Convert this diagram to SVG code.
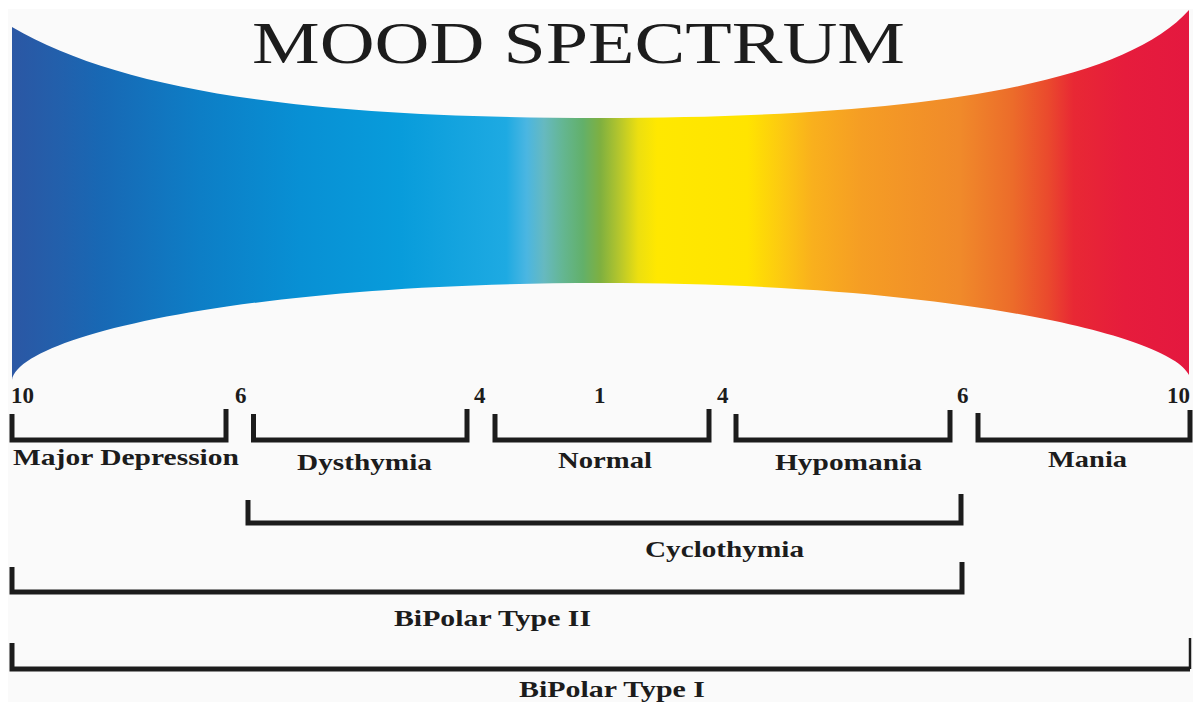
<svg xmlns="http://www.w3.org/2000/svg" width="1193" height="702" viewBox="0 0 1193 702">
<defs>
<linearGradient id="spec" gradientUnits="userSpaceOnUse" x1="12" y1="0" x2="1189" y2="0">
<stop offset="0" stop-color="#2b57a4"/>
<stop offset="0.041" stop-color="#2260ac"/>
<stop offset="0.075" stop-color="#1868b4"/>
<stop offset="0.160" stop-color="#0d7ec6"/>
<stop offset="0.245" stop-color="#0890d4"/>
<stop offset="0.330" stop-color="#089cdb"/>
<stop offset="0.420" stop-color="#1eaae2"/>
<stop offset="0.437" stop-color="#4ab6e2"/>
<stop offset="0.452" stop-color="#66b9c0"/>
<stop offset="0.468" stop-color="#64b692"/>
<stop offset="0.485" stop-color="#62b06a"/>
<stop offset="0.500" stop-color="#7fb040"/>
<stop offset="0.516" stop-color="#b5c62c"/>
<stop offset="0.532" stop-color="#ecdf10"/>
<stop offset="0.548" stop-color="#ffe800"/>
<stop offset="0.625" stop-color="#ffe400"/>
<stop offset="0.655" stop-color="#fcc812"/>
<stop offset="0.680" stop-color="#f9b01d"/>
<stop offset="0.722" stop-color="#f59d24"/>
<stop offset="0.805" stop-color="#f08a2a"/>
<stop offset="0.850" stop-color="#ec6c2a"/>
<stop offset="0.880" stop-color="#ea4a2d"/>
<stop offset="0.902" stop-color="#e82834"/>
<stop offset="0.945" stop-color="#e61c3c"/>
<stop offset="1" stop-color="#e4183f"/>
</linearGradient>
</defs>
<style>
.br{fill:none;stroke:#1c1c1c;stroke-width:5;stroke-linejoin:miter;stroke-linecap:butt}
.lbl{font-family:"Liberation Serif","Times New Roman",serif;font-weight:bold;font-size:23px;fill:#1c1c1c}
.num{font-family:"Liberation Serif","Times New Roman",serif;font-weight:bold;font-size:23px;fill:#1c1c1c}
.title{font-family:"Liberation Serif","Times New Roman",serif;font-size:60px;fill:#1c1c1c}
</style>
<rect x="0" y="0" width="1193" height="702" fill="#ffffff"/>
<rect x="8" y="9" width="1185" height="693" fill="#fafafa"/>
<g id="spectrum">
<path d="M12,27 C120,90 300,118 600,118 C900,118 1120,88 1189,10 L1189,375 C1170,335 950,283 600,283 C250,283 20,335 12,380 Z" fill="url(#spec)"/>
</g>
<g id="title">
<text class="title" x="252" y="63" textLength="653" lengthAdjust="spacingAndGlyphs">MOOD SPECTRUM</text>
</g>
<g id="scale">
<text class="num" x="11" y="403">10</text>
<text class="num" x="235" y="403">6</text>
<text class="num" x="474" y="403">4</text>
<text class="num" x="594" y="403">1</text>
<text class="num" x="717" y="403">4</text>
<text class="num" x="957" y="403">6</text>
<text class="num" x="1167" y="403">10</text>
</g>
<g id="connectors">
<path id="br-major" class="br" d="M12,414 V440 H226 V409"/>
<path id="br-dys" class="br" d="M253.5,414 V440 H467 V409"/>
<path id="br-normal" class="br" d="M495,414 V440 H709 V409"/>
<path id="br-hypo" class="br" d="M736,414 V440 H950 V410"/>
<path id="br-mania" class="br" d="M978,413 V440 H1190 V410"/>
<path id="br-cyclo" class="br" d="M248,500 V523 H961 V494"/>
<path id="br-bp2" class="br" d="M12,567 V592 H962 V562"/>
<path id="br-bp1" class="br" d="M12,643 V669 H1190"/>
<path class="br" style="stroke-width:2.5" d="M1190,669 V638"/>
</g>
<g id="major-depression"><text class="lbl" x="13" y="465" textLength="226" lengthAdjust="spacingAndGlyphs">Major Depression</text></g>
<g id="dysthymia"><text class="lbl" x="297" y="470" textLength="135" lengthAdjust="spacingAndGlyphs">Dysthymia</text></g>
<g id="normal"><text class="lbl" x="558" y="468" textLength="94" lengthAdjust="spacingAndGlyphs">Normal</text></g>
<g id="hypomania"><text class="lbl" x="775" y="470" textLength="147" lengthAdjust="spacingAndGlyphs">Hypomania</text></g>
<g id="mania"><text class="lbl" x="1048" y="467" textLength="79" lengthAdjust="spacingAndGlyphs">Mania</text></g>
<g id="cyclothymia"><text class="lbl" x="645" y="557" textLength="159" lengthAdjust="spacingAndGlyphs">Cyclothymia</text></g>
<g id="bipolar-ii"><text class="lbl" x="394" y="626" textLength="197" lengthAdjust="spacingAndGlyphs">BiPolar Type II</text></g>
<g id="bipolar-i"><text class="lbl" x="519" y="697" textLength="186" lengthAdjust="spacingAndGlyphs">BiPolar Type I</text></g>
</svg>
